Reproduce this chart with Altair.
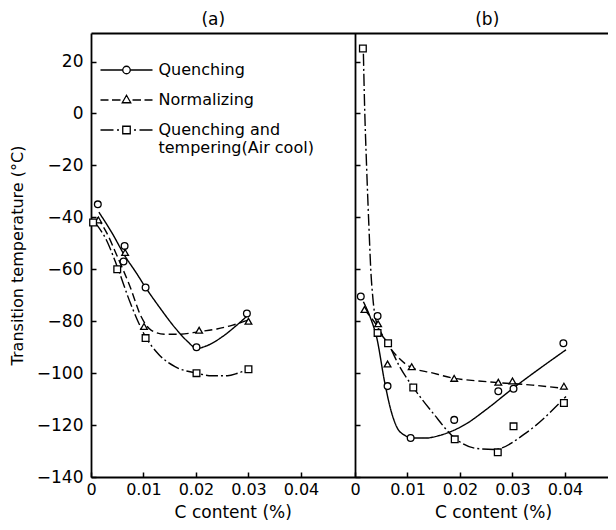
import altair as alt
import pandas as pd

FONT = "DejaVu Sans"
SERIES = ["Quenching", "Normalizing", "Quenching and tempering(Air cool)"]
B_OFFSET = 0.0503  # panel (b) drawn to the right of panel (a)

# ---------- measured points ----------
# panel (a)
qa_c = [0.0013, 0.0064, 0.0062, 0.0104, 0.0201, 0.0297]
qa_t = [-35, -51, -57, -67, -90, -77]
na_c = [0.0014, 0.0065, 0.0101, 0.0206, 0.0300]
na_t = [-41, -53.5, -82, -83.5, -80]
ta_c = [0.0004, 0.0050, 0.0104, 0.0201, 0.0300]
ta_t = [-42, -60, -86.5, -100, -98.5]
# panel (b)
qb_c = [0.0011, 0.0043, 0.0062, 0.0106, 0.0189, 0.0273, 0.0302, 0.0397]
qb_t = [-70.5, -78, -105, -125, -118, -107, -106, -88.5]
nb_c = [0.0018, 0.0044, 0.0062, 0.0108, 0.0189, 0.0273, 0.0300, 0.0398]
nb_t = [-75.5, -81, -96.5, -97.5, -102, -103.5, -103, -105]
tb_c = [0.0015, 0.0043, 0.0063, 0.0111, 0.0190, 0.0272, 0.0302, 0.0398]
tb_t = [25, -84.5, -88.5, -105.5, -125.5, -130.5, -120.5, -111.5]

# ---------- fitted curves ----------
qa_cc = [0.0015, 0.004, 0.0065, 0.0085, 0.0104, 0.013, 0.016, 0.0185, 0.0201, 0.022, 0.025, 0.0275, 0.030]
qa_ct = [-38, -46, -55, -61, -67, -74.5, -82.5, -88, -90.5, -89.5, -86, -82, -77.5]
na_cc = [0.0012, 0.003, 0.005, 0.0075, 0.0095, 0.0115, 0.014, 0.017, 0.0206, 0.024, 0.027, 0.030]
na_ct = [-40, -46, -55, -67, -78, -83.5, -85, -85, -84, -83, -81.5, -79.5]
ta_cc = [0.0008, 0.003, 0.005, 0.0075, 0.0104, 0.013, 0.016, 0.0201, 0.023, 0.026, 0.028, 0.030]
ta_ct = [-42, -49, -59, -73, -86, -93, -97.5, -100, -101, -101, -100, -98.5]
qb_cc = [0.0016, 0.003, 0.0041, 0.0057, 0.0068, 0.0079, 0.0095, 0.011, 0.0135, 0.0161, 0.0212, 0.025, 0.030, 0.035, 0.0402]
qb_ct = [-72.5, -79, -86, -104, -114, -120.5, -124, -125, -125, -124, -119.5, -114, -106, -98.5, -91]
nb_cc = [0.0018, 0.0041, 0.0066, 0.0085, 0.0104, 0.0149, 0.0189, 0.0235, 0.0275, 0.0338, 0.0402]
nb_ct = [-75.5, -81.5, -90, -94.5, -97.5, -100, -102, -103, -103.7, -104.6, -106]
tb_cc = [0.0016, 0.0018, 0.0022, 0.0027, 0.0030, 0.0034, 0.0043, 0.0063, 0.0085, 0.0111, 0.0149, 0.019, 0.0231, 0.0265, 0.0326, 0.0402]
tb_ct = [23, 5, -20, -46, -60, -71, -82, -88.5, -97.5, -105.5, -115.5, -125, -129, -129.4, -123, -109]

A_TICKS = [0, 0.01, 0.02, 0.03, 0.04]
X_TICKS = A_TICKS + [round(v + B_OFFSET, 4) for v in A_TICKS]
Y_TICKS = [-140, -120, -100, -80, -60, -40, -20, 0, 20]
PANEL_TITLE_POS = [0.0232, 0.0754]
X_TITLE_POS = [0.027, 0.0766]


def rows(panel, series, cs, ts):
    return [{"panel": panel, "series": series, "c": c, "t": t} for c, t in zip(cs, ts)]


points = pd.DataFrame(
    rows("a", SERIES[0], qa_c, qa_t) + rows("a", SERIES[1], na_c, na_t) + rows("a", SERIES[2], ta_c, ta_t)
    + rows("b", SERIES[0], qb_c, qb_t) + rows("b", SERIES[1], nb_c, nb_t) + rows("b", SERIES[2], tb_c, tb_t)
)
curves = pd.DataFrame(
    rows("a", SERIES[0], qa_cc, qa_ct) + rows("a", SERIES[1], na_cc, na_ct) + rows("a", SERIES[2], ta_cc, ta_ct)
    + rows("b", SERIES[0], qb_cc, qb_ct) + rows("b", SERIES[1], nb_cc, nb_ct) + rows("b", SERIES[2], tb_cc, tb_ct)
)

xpos_expr = f"datum.c + (datum.panel == 'b' ? {B_OFFSET} : 0)"
xscale = alt.Scale(domain=[0, 0.0985], nice=False, zero=False)
yscale = alt.Scale(domain=[-140, 31], nice=False, zero=False)

sub = f"(datum.value >= 0.05 ? datum.value - {B_OFFSET} : datum.value)"
x_label_expr = f"{sub} < 0.001 ? '0' : format({sub}, '.2f')"

axis_x_ticks = alt.Axis(orient="bottom", values=X_TICKS, labelExpr=x_label_expr, offset=-5, tickSize=5,
                        tickWidth=1.5, domain=False, grid=False, labelPadding=4, title=None,
                        labelFontSize=16, labelFlush=False, labelOverlap=False)
axis_x_title = alt.Axis(orient="bottom", values=X_TITLE_POS, labelExpr="'C content (%)'", ticks=False,
                        tickSize=0, domain=True, domainWidth=1.8, grid=False, labelPadding=27, title=None,
                        labelFontSize=17, labelFlush=False, labelOverlap=False)
axis_x_top = alt.Axis(orient="top", values=PANEL_TITLE_POS, labelExpr="datum.value < 0.05 ? '(a)' : '(b)'",
                      ticks=False, tickSize=0, domain=True, domainWidth=1.8, grid=False, labelPadding=5,
                      title=None, labelFontSize=17, labelFlush=False, labelOverlap=False)

axis_y_ticks = alt.Axis(orient="left", values=Y_TICKS, format="d", offset=-5, tickSize=5, tickWidth=1.5,
                        domain=False, grid=False, labelPadding=8, labelFontSize=17,
                        title="Transition temperature (°C)", titlePadding=11, titleFontSize=16,
                        titleFontWeight="normal")
axis_y_border = alt.Axis(orient="left", ticks=False, labels=False, domain=True, domainWidth=1.8,
                         grid=False, title=None)
axis_y_mid = alt.Axis(orient="right", values=Y_TICKS, offset=-253, tickSize=5, tickWidth=1.5,
                      labels=False, domain=True, domainWidth=1.8, grid=False, title=None)

curve_layer = alt.Chart(curves).transform_calculate(xpos=xpos_expr, key="datum.panel + datum.series").mark_line(
    interpolate="monotone", color="black", strokeWidth=1.4
).encode(
    x=alt.X("xpos:Q", scale=xscale, axis=axis_x_ticks),
    y=alt.Y("t:Q", scale=yscale, axis=axis_y_ticks),
    strokeDash=alt.StrokeDash("series:N", scale=alt.Scale(domain=SERIES, range=[[1, 0], [8, 4], [12, 3, 2, 3]]),
                              legend=None),
    detail="key:N",
    order="c:Q",
)

point_layer = alt.Chart(points).transform_calculate(xpos=xpos_expr).mark_point(
    filled=True, fill="white", stroke="black", strokeWidth=1.3, size=45, opacity=1
).encode(
    x=alt.X("xpos:Q", scale=xscale, axis=axis_x_title),
    y=alt.Y("t:Q", scale=yscale, axis=axis_y_border),
    shape=alt.Shape("series:N", scale=alt.Scale(domain=SERIES, range=["circle", "triangle-up", "square"]),
                    legend=None),
)

# legend glyphs: line + marker, drawn to the right of the symbol anchor (units of 5px)
PATH_Q = "M0,0H4.45M5.95,0H10.4M4.45,0A0.75,0.75,0,1,1,5.95,0A0.75,0.75,0,1,1,4.45,0Z"
PATH_N = "M0,0H1.6M2.3,0H4.0M6.4,0H8.1M8.8,0H10.4M5.2,-0.95L6.05,0.55L4.35,0.55Z"
PATH_T = ("M0,0H2.6M3.3,0H3.7M4.45,-0.75H5.95V0.75H4.45Z"
          "M6.7,0H7.1M7.8,0H10.4")

legend_label_expr = ("datum.label == 'Quenching and tempering(Air cool)' ? "
                     "['Quenching and', 'tempering(Air cool)'] : datum.label")

legend_layer = alt.Chart(points).transform_calculate(xpos=xpos_expr).transform_filter("false").mark_point(
    filled=False, color="black", opacity=1
).encode(
    x=alt.X("xpos:Q", scale=xscale, axis=axis_x_top),
    y=alt.Y("t:Q", scale=yscale, axis=axis_y_mid),
    shape=alt.Shape("series:N", scale=alt.Scale(domain=SERIES, range=[PATH_Q, PATH_N, PATH_T]),
                    legend=alt.Legend(orient="none", legendX=1.5, legendY=28, title=None, symbolSize=100,
                                      symbolStrokeWidth=1.3, symbolStrokeColor="black",
                                      symbolFillColor="transparent", symbolOpacity=1,
                                      labelFontSize=16, labelFont=FONT, labelColor="black",
                                      labelOffset=50, rowPadding=12, padding=0, labelLimit=300,
                                      clipHeight=18,
                                      labelBaseline="middle", labelExpr=legend_label_expr)),
)

chart = alt.layer(curve_layer, point_layer, legend_layer).resolve_scale(
    shape="independent", strokeDash="independent"
).resolve_axis(
    x="independent", y="independent"
).properties(
    width=517, height=444,
    autosize=alt.AutoSizeParams(type="none"),
    padding={"left": 83, "top": 25, "right": 0, "bottom": 50},
).configure_axis(
    labelFont=FONT, titleFont=FONT, labelColor="black", titleColor="black",
    tickColor="black", domainColor="black",
).configure_view(strokeWidth=0)

chart.save("out.html", embed_options={"renderer": "svg", "actions": False})
